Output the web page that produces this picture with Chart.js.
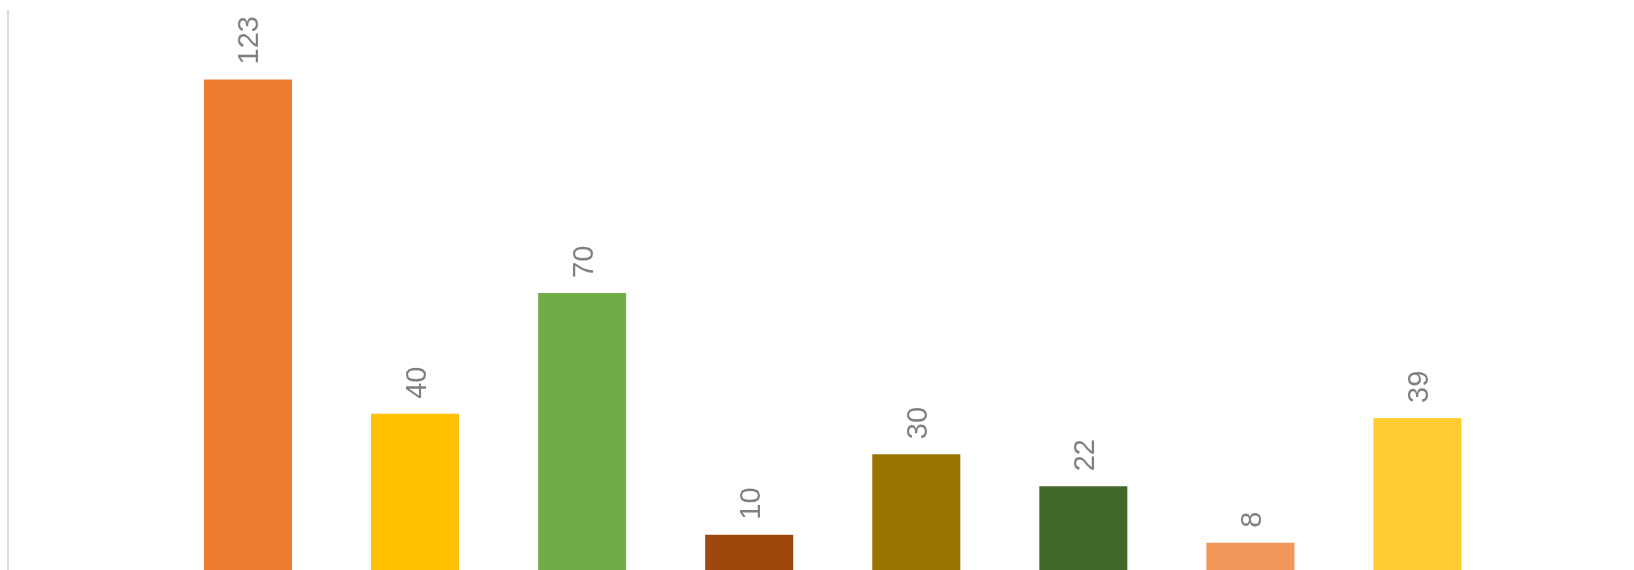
<!DOCTYPE html>
<html>
<head>
<meta charset="utf-8">
<script src="https://cdn.jsdelivr.net/npm/chart.js@4/dist/chart.umd.min.js"></script>
<style>
    html, body { margin: 0; padding: 0; background: #fff; overflow: hidden; }
    #wrap { position: absolute; left: 0; top: 0; width: 1634px; height: 580px; }
</style>
</head>
<body>
<div id="wrap"><canvas id="barChart"></canvas></div>
<script>
// Data (category names are cropped out of the reference)
const categories = ['C1', 'C2', 'C3', 'C4', 'C5', 'C6', 'C7', 'C8'];
const slots = [1, 2, 3, 4, 5, 6, 7, 8];
const values = [123, 40, 70, 10, 30, 22, 8, 39];
const yTicks = { min: 0, max: 140 };

const barColors = ['#ED7D31', '#FFC000', '#70AD47', '#9E480E', '#997300', '#43682B', '#F1975A', '#FFCD33'];

// Value labels, rotated, above each bar
const valueLabels = {
    id: 'valueLabels',
    afterDatasetsDraw(chart) {
        const { ctx } = chart;
        const meta = chart.getDatasetMeta(0);
        ctx.save();
        ctx.fillStyle = '#7F7F7F';
        ctx.font = '29px "Liberation Sans Narrow", "Liberation Sans", sans-serif';
        ctx.textAlign = 'left';
        ctx.textBaseline = 'alphabetic';
        meta.data.forEach((bar, i) => {
            ctx.save();
            ctx.translate(bar.x + 10.5, bar.y - 15);
            ctx.rotate(-Math.PI / 2);
            ctx.fillText(String(values[i]), 0, 0);
            ctx.restore();
        });
        ctx.restore();
    }
};

const ctx = document.getElementById('barChart').getContext('2d');
new Chart(ctx, {
    type: 'bar',
    data: {
        labels: categories,
        datasets: [{
            data: slots.map((s, i) => ({ x: s, y: values[i] })),
            backgroundColor: barColors,
            borderWidth: 0,
            categoryPercentage: 1,
            barPercentage: 0.527
        }]
    },
    options: {
        responsive: true,
        maintainAspectRatio: false,
        animation: false,
        layout: { padding: { left: 8, top: 11, right: 0, bottom: 5 } },
        plugins: {
            legend: { display: false },
            tooltip: { enabled: false },
            title: { display: false }
        },
        scales: {
            x: {
                type: 'linear',
                display: false,
                offset: false,
                min: -0.4365,
                max: 9.296
            },
            y: {
                min: yTicks.min,
                max: yTicks.max,
                grid: { display: false, drawTicks: false },
                ticks: { display: false },
                border: { display: true, color: '#D9D9D9', width: 2 }
            }
        }
    },
    plugins: [valueLabels]
});
</script>
</body>
</html>
